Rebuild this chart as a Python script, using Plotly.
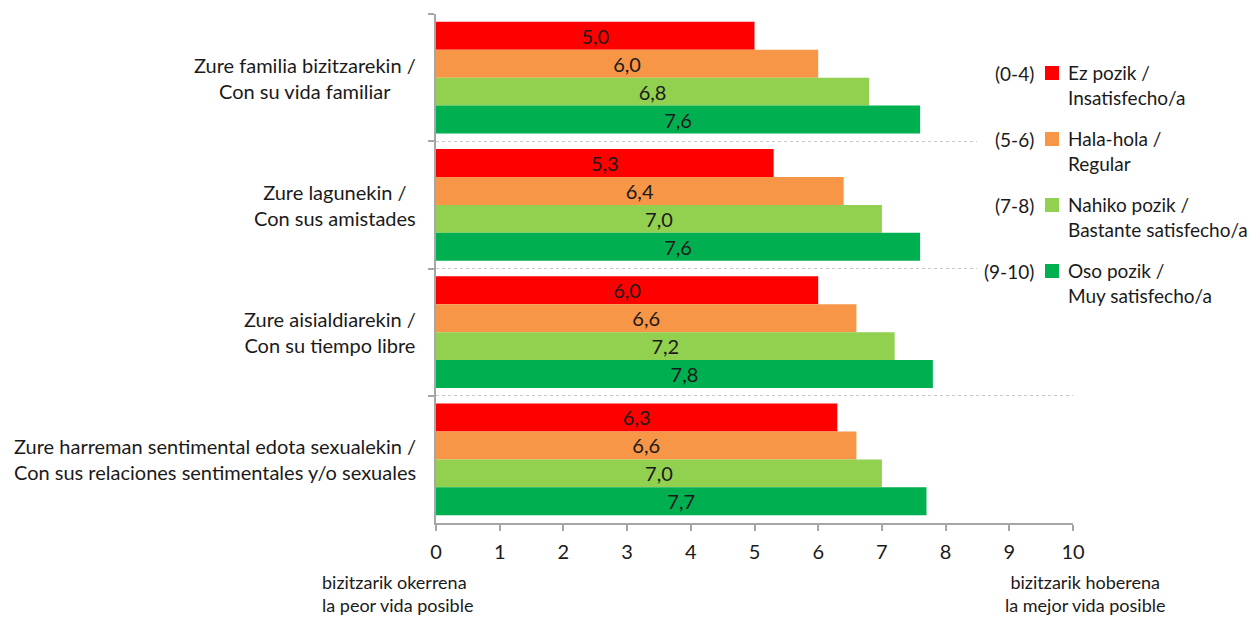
import plotly.graph_objects as go

# categories (top to bottom)
categories = [
    "Zure familia bizitzarekin /<br>Con su vida familiar",
    "Zure lagunekin /<br>Con sus amistades",
    "Zure aisialdiarekin /<br>Con su tiempo libre",
    "Zure harreman sentimental edota sexualekin /<br>Con sus relaciones sentimentales y/o sexuales",
]

series_names = [
    "Ez pozik /<br>Insatisfecho/a",
    "Hala-hola /<br>Regular",
    "Nahiko pozik /<br>Bastante satisfecho/a",
    "Oso pozik /<br>Muy satisfecho/a",
]
series_ranges = ["(0-4)", "(5-6)", "(7-8)", "(9-10)"]
colors = ["#FF0000", "#F79646", "#92D050", "#00B050"]

# values[series][category]
values = [
    [5.0, 5.3, 6.0, 6.3],
    [6.0, 6.4, 6.6, 6.6],
    [6.8, 7.0, 7.2, 7.0],
    [7.6, 7.6, 7.8, 7.7],
]

x_ticks = list(range(0, 11))
left_note = "bizitzarik okerrena<br>la peor vida posible"
right_note = "bizitzarik hoberena<br>la mejor vida posible"

FONT = "Lato"
FS = 20
TXT = "#1a1a1a"

# page body has an 8px margin, so the figure is laid out 8px in
OFF = 8
W, H = 1258 - OFF, 618 - OFF
PLOT_X0, PLOT_X1 = 436, 1073   # target pixel positions on the page
PLOT_Y0, PLOT_Y1 = 14, 523
L = PLOT_X0 - OFF
T = PLOT_Y0 - OFF
PW = PLOT_X1 - PLOT_X0
PH = PLOT_Y1 - PLOT_Y0
R = W - L - PW
B = H - T - PH


def px(x):
    return (x - PLOT_X0) / PW


def py(y):
    return 1 - (y - PLOT_Y0) / PH


fig = go.Figure()
for name, vals, col in zip(series_names, values, colors):
    fig.add_trace(go.Bar(
        y=categories,
        x=vals,
        orientation="h",
        name=name,
        marker=dict(color=col, line=dict(width=0)),
        text=[f"{v:.1f}".replace(".", ",") for v in vals],
        textposition="inside",
        insidetextanchor="middle",
        textangle=0,
        constraintext="none",
        textfont=dict(family=FONT, size=FS, color=TXT),
        showlegend=False,
    ))

# category labels as centred two-line annotations
for cat in categories:
    fig.add_annotation(
        xref="paper", yref="y", x=0, y=cat,
        text=cat, showarrow=False, xanchor="right", yanchor="middle",
        align="center", xshift=-18,
        font=dict(family=FONT, size=FS, color=TXT),
    )

# white legend backdrop (covers gridlines like Excel's legend box)
fig.add_shape(
    type="rect", xref="paper", yref="paper",
    x0=px(977), x1=px(1258), y0=py(320), y1=py(50),
    fillcolor="white", line=dict(width=0), layer="above",
)

# legend
leg_top = 73
leg_step = 66
for i, (name, rng, col) in enumerate(zip(series_names, series_ranges, colors)):
    yc = leg_top + i * leg_step
    fig.add_shape(
        type="rect", xref="paper", yref="paper",
        x0=px(1045), x1=px(1059), y0=py(yc + 7), y1=py(yc - 7),
        fillcolor=col, line=dict(width=0), layer="above",
    )
    fig.add_annotation(
        xref="paper", yref="paper", x=px(1036), y=py(yc),
        text=rng, showarrow=False, xanchor="right", yanchor="middle",
        font=dict(family=FONT, size=FS - 1, color=TXT),
    )
    fig.add_annotation(
        xref="paper", yref="paper", x=px(1066), y=py(yc - 14),
        text=name, showarrow=False, xanchor="left", yanchor="top",
        align="left", font=dict(family=FONT, size=FS - 1, color=TXT),
    )

# end-of-scale notes
fig.add_annotation(
    xref="paper", yref="paper", x=px(320), y=py(569),
    text=left_note, showarrow=False, xanchor="left", yanchor="top",
    align="left", font=dict(family=FONT, size=FS - 2, color=TXT),
)
fig.add_annotation(
    xref="paper", yref="paper", x=px(1085), y=py(569),
    text=right_note, showarrow=False, xanchor="center", yanchor="top",
    align="center", font=dict(family=FONT, size=FS - 2, color=TXT),
)

fig.update_layout(
    width=W, height=H,
    margin=dict(l=L, r=R, t=T, b=B),
    paper_bgcolor="white", plot_bgcolor="white",
    barmode="group", bargap=0.12, bargroupgap=0,
    font=dict(family=FONT, size=FS, color=TXT),
    xaxis=dict(
        range=[0, 10], tickvals=x_ticks, showgrid=False, zeroline=False,
        showline=True, linecolor="#a6a6a6", linewidth=2,
        ticks="outside", ticklen=6, tickcolor="#a6a6a6", tickwidth=2,
        ticklabelstandoff=4,
        tickfont=dict(family=FONT, size=FS, color=TXT),
        fixedrange=True,
    ),
    yaxis=dict(
        autorange="reversed", showticklabels=False,
        tickson="boundaries", ticks="outside", ticklen=6,
        tickcolor="#a6a6a6", tickwidth=2,
        showline=True, linecolor="#a6a6a6", linewidth=2,
        showgrid=True, gridcolor="#c8c8c8", gridwidth=1, griddash="dot",
        zeroline=False, fixedrange=True,
    ),
)

fig.write_html("out.html")
